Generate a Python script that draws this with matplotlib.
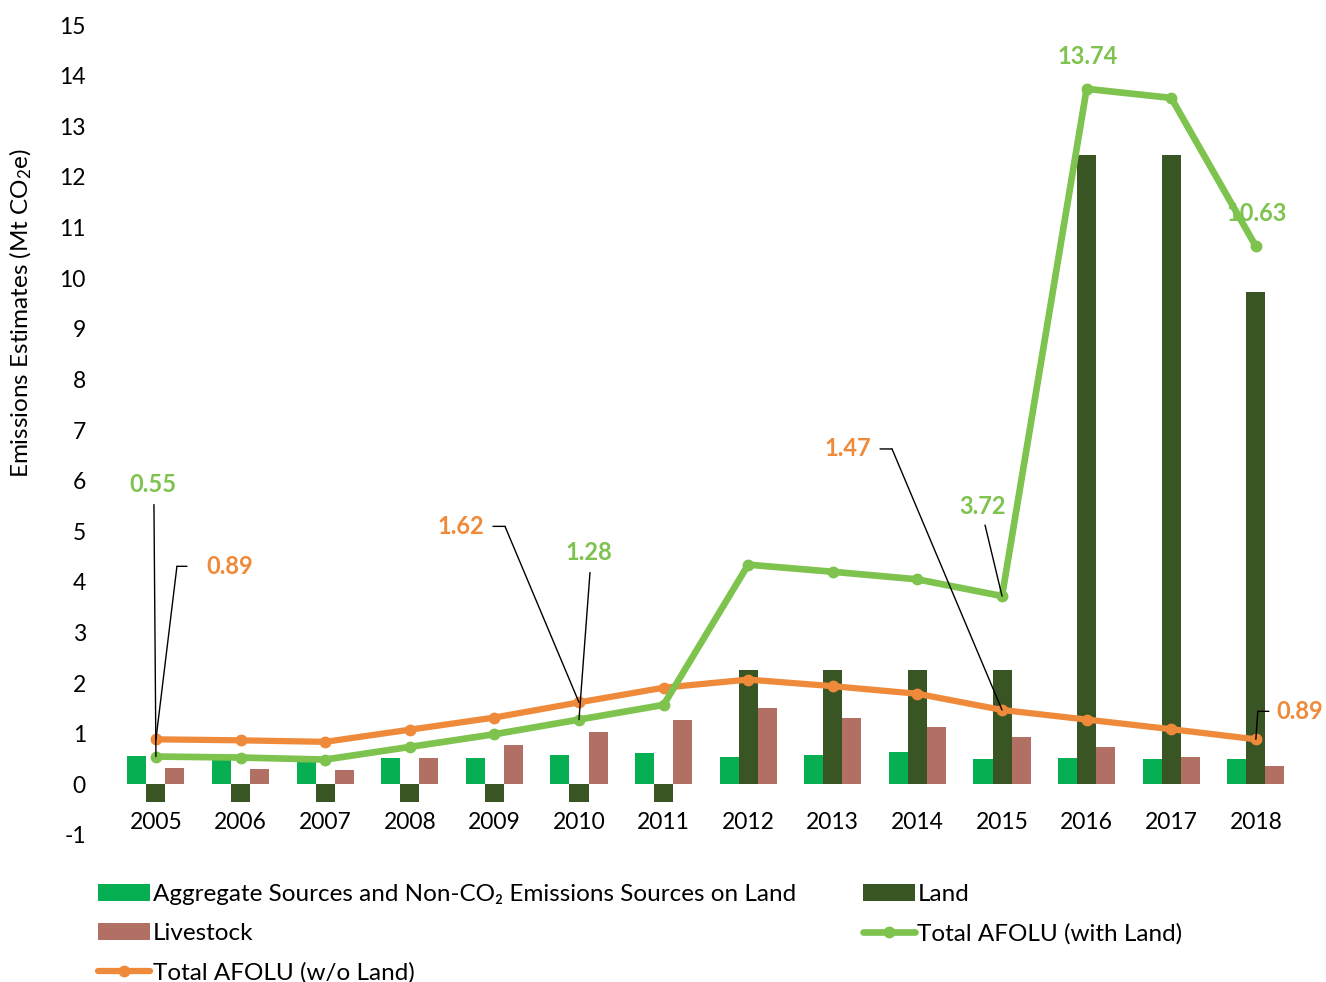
import matplotlib
matplotlib.use('Agg')
import matplotlib.pyplot as plt
from matplotlib.transforms import offset_copy
import numpy as np

plt.rcParams['font.family'] = ['Lato', 'DejaVu Sans']
plt.rcParams['mathtext.fontset'] = 'custom'
plt.rcParams['mathtext.rm'] = 'Lato'
plt.rcParams['mathtext.it'] = 'Lato:italic'
plt.rcParams['axes.unicode_minus'] = False

years = ['2005', '2006', '2007', '2008', '2009', '2010', '2011',
         '2012', '2013', '2014', '2015', '2016', '2017', '2018']

aggregate = [0.56, 0.55, 0.53, 0.53, 0.53, 0.58, 0.61,
             0.54, 0.59, 0.64, 0.51, 0.52, 0.51, 0.51]
land = [-0.35, -0.35, -0.35, -0.35, -0.35, -0.35, -0.35,
        2.25, 2.25, 2.25, 2.25, 12.43, 12.43, 9.73]
livestock = [0.32, 0.30, 0.28, 0.53, 0.77, 1.03, 1.27,
             1.51, 1.32, 1.13, 0.94, 0.74, 0.55, 0.37]
total_with_land = [0.55, 0.53, 0.49, 0.74, 0.99, 1.28, 1.57,
                   4.34, 4.20, 4.05, 3.72, 13.74, 13.56, 10.63]
total_wo_land = [0.89, 0.87, 0.84, 1.08, 1.32, 1.62, 1.91,
                 2.07, 1.94, 1.79, 1.47, 1.28, 1.09, 0.89]

c_agg = '#06AF52'
c_land = '#3A5524'
c_live = '#B17063'
c_with = '#7DC34E'
c_wo = '#EF8A3A'

fig = plt.figure(figsize=(13.26, 9.82), dpi=100)
ax = fig.add_axes([0.0857, 0.1497, 0.8933, 0.8248])

x = np.arange(len(years))
w = 0.225
b_agg = ax.bar(x - w, aggregate, w, color=c_agg, zorder=2)
b_live = ax.bar(x + w, livestock, w, color=c_live, zorder=2)
b_land = ax.bar(x, land, w, color=c_land, zorder=2)
l_wo, = ax.plot(x, total_wo_land, color=c_wo, lw=4.5, marker='o', ms=7.5,
                zorder=3, solid_capstyle='round')
l_with, = ax.plot(x, total_with_land, color=c_with, lw=4.8, marker='o', ms=7.5,
                  zorder=3, solid_capstyle='round')

ax.set_xlim(-0.5, len(years) - 0.5)
ax.set_ylim(-1, 15)
ax.set_yticks(range(-1, 16))
ax.set_xticks(x)
ax.set_xticklabels(years)
for s in ['top', 'right', 'left']:
    ax.spines[s].set_visible(False)
ax.spines['bottom'].set_position(('data', 0))
ax.spines['bottom'].set_visible(False)
ax.tick_params(axis='x', length=0, pad=20, labelsize=16.5)
ax.tick_params(axis='y', length=0, pad=20, labelsize=16.5)

fig.text(0.016, 0.681, r'Emissions Estimates (Mt CO$_\mathrm{2}$e)', rotation=90,
         ha='center', va='center', fontsize=17.5)


def draw_label(i, vals, color, dx, dy, pts):
    # value label offset in pixels, leader drawn through pts to the point
    ax.annotate(f'{vals[i]:.2f}', (x[i], vals[i]), xytext=(dx, dy),
                textcoords='offset pixels', ha='center', va='center',
                color=color, fontsize=17, fontweight='bold', zorder=5)
    pts = pts + [(0, 0)]
    for (x0, y0), (x1, y1) in zip(pts[:-1], pts[1:]):
        tr0 = offset_copy(ax.transData, fig=fig, x=x0, y=y0, units='dots')
        tr1 = offset_copy(ax.transData, fig=fig, x=x1, y=y1, units='dots')
        ax.annotate('', xy=(x[i], vals[i]), xycoords=tr1,
                    xytext=(x[i], vals[i]), textcoords=tr0,
                    arrowprops=dict(arrowstyle='-', lw=1, color='black',
                                    shrinkA=0, shrinkB=0),
                    zorder=4)


draw_label(0, total_with_land, c_with, -3, 272, [(-2, 252)])
draw_label(0, total_wo_land, c_wo, 74, 173, [(31, 173), (21, 173)])
draw_label(5, total_wo_land, c_wo, -118, 176, [(-86, 176), (-74, 176)])
draw_label(5, total_with_land, c_with, 10, 167, [(11, 147)])
draw_label(10, total_wo_land, c_wo, -154, 261, [(-122, 261), (-110, 261)])
draw_label(10, total_with_land, c_with, -19, 90, [(-17, 71)])
draw_label(11, total_with_land, c_with, 1, 32, [])
draw_label(13, total_with_land, c_with, 1, 33, [])
draw_label(13, total_wo_land, c_wo, 44, 28, [(13, 28), (2, 28)])

handles = [b_agg, b_live, l_wo, b_land, l_with]
labels = ['Aggregate Sources and Non-CO\u2082 Emissions Sources on Land',
          'Livestock', 'Total AFOLU (w/o Land)', 'Land', 'Total AFOLU (with Land)']
fig.legend(handles, labels, loc='upper left', bbox_to_anchor=(0.074, 0.1),
           ncol=2, frameon=False, fontsize=17.5, handlelength=2.15,
           handleheight=0.7, handletextpad=0.1, labelspacing=0.74,
           columnspacing=2.75, borderaxespad=0, borderpad=0)

fig.savefig('out.png', dpi=100)
